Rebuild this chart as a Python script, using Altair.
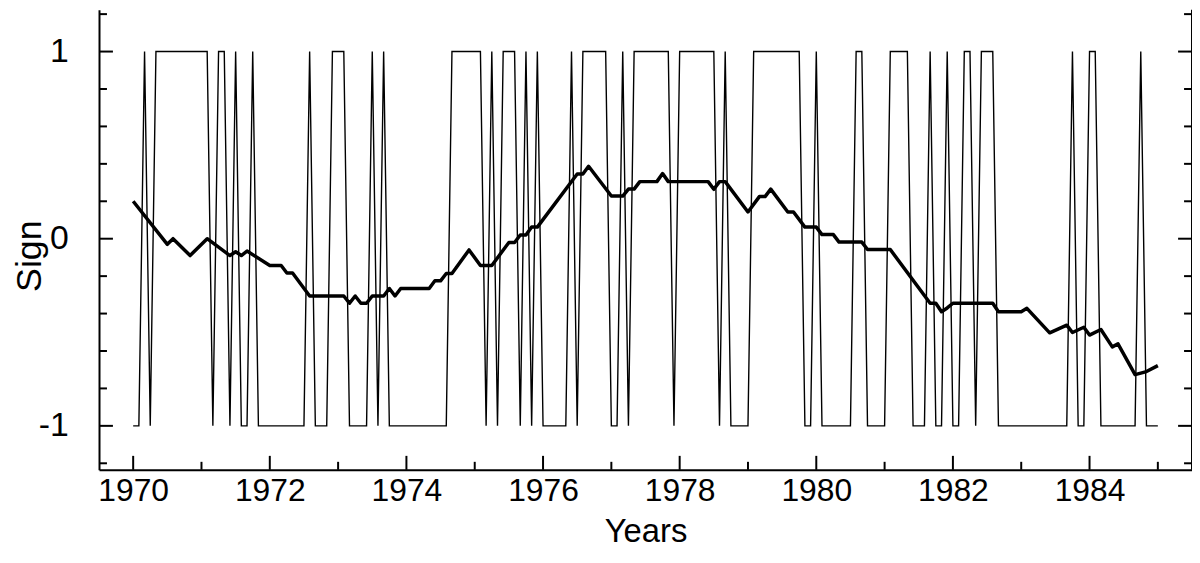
import altair as alt
import pandas as pd

# ---------------- data ----------------
start_year = 1970
# monthly sign series, Jan 1970 .. Jan 1985 (181 months)
sign_values = [
    -1, -1, 1, -1, 1, 1, 1, 1, 1, 1, 1, 1, 1, 1,           # 0-13
    -1, 1, 1, -1, 1, -1, -1, 1,                           # 14-21
    -1, -1, -1, -1, -1, -1, -1, -1, -1,                   # 22-30
    1, -1, -1, -1, 1, 1, 1, -1, -1, -1, -1,               # 31-41
    1, -1, 1,                                             # 42-44
    -1, -1, -1, -1, -1, -1, -1, -1, -1, -1, -1,           # 45-55
    1, 1, 1, 1, 1, 1,                                     # 56-61
    -1, 1, -1, 1, 1, 1, -1, 1, -1, 1,                     # 62-71
    -1, -1, -1, -1, -1, 1, -1, 1, 1, 1, 1, 1,             # 72-83
    -1, -1, 1, -1,                                        # 84-87
    1, 1, 1, 1, 1, 1, 1, -1,                              # 88-95
    1, 1, 1, 1, 1, 1, 1, -1, 1,                           # 96-104
    -1, -1, -1, -1,                                       # 105-108
    1, 1, 1, 1, 1, 1, 1, 1, 1,                            # 109-117
    -1, -1, 1, -1, -1, -1, -1, -1, -1,                    # 118-126
    1, 1, -1, -1, -1, -1, 1, 1, 1, 1,                     # 127-136
    -1, -1, -1, 1, -1, -1, 1, -1, -1, 1, 1, -1,           # 137-148
    1, 1, 1,                                              # 149-151
    -1, -1, -1, -1, -1, -1, -1, -1, -1, -1, -1, -1, -1,   # 152-164
    1, -1, -1, 1, 1,                                      # 165-169
    -1, -1, -1, -1, -1, -1, -1, 1, -1, -1, -1,            # 170-180
]

# smoothed curve: vertices (month index since Jan 1970, value)
trend_months = [0, 6, 7, 10, 13, 17, 18, 19, 20, 24, 26, 27, 28, 31, 37, 38, 39,
                40, 41, 42, 44, 45, 46, 47, 52, 53, 54, 55, 56, 59, 61, 63, 66,
                67, 68, 69, 70, 71, 78, 79, 80, 84, 86, 87, 88, 89, 92, 93, 94,
                101, 102, 103, 104, 108, 110, 111, 112, 115, 116, 118, 120, 121,
                123, 124, 128, 129, 133, 140, 141, 142, 143, 144, 151, 152, 156,
                157, 161, 164, 165, 167, 168, 170, 172, 173, 176, 178, 180]
trend_values = [0.20, -0.03, 0.00, -0.09, 0.00, -0.09, -0.07, -0.09, -0.066,
                -0.143, -0.143, -0.183, -0.183, -0.306, -0.306, -0.345, -0.306,
                -0.345, -0.345, -0.306, -0.306, -0.266, -0.306, -0.266, -0.266,
                -0.225, -0.225, -0.186, -0.186, -0.06, -0.143, -0.143, -0.02,
                -0.02, 0.02, 0.02, 0.062, 0.062, 0.346, 0.346, 0.387, 0.228,
                0.228, 0.265, 0.265, 0.305, 0.305, 0.348, 0.305, 0.305, 0.264,
                0.305, 0.305, 0.143, 0.225, 0.225, 0.265, 0.143, 0.143, 0.062,
                0.062, 0.022, 0.022, -0.018, -0.018, -0.058, -0.058, -0.345,
                -0.345, -0.39, -0.37, -0.345, -0.345, -0.39, -0.39, -0.372,
                -0.503, -0.462, -0.501, -0.473, -0.515, -0.485, -0.578, -0.562,
                -0.726, -0.71, -0.678]

x_tick_years = list(range(1970, 1986))
x_label_years = [1970, 1972, 1974, 1976, 1978, 1980, 1982, 1984]
y_major_ticks = [-1, 0, 1]
y_minor_ticks = [-1.2, -0.8, -0.6, -0.4, -0.2, 0.2, 0.4, 0.6, 0.8, 1.2]

# ---------------- layout ----------------
W, H = 1100, 463
X_DOMAIN = [1969.5, 1985.5]
Y_DOMAIN = [-1.2347, 1.2235]
FONT = "Liberation Sans"
MAJ, MIN = 14, 8

sign_df = pd.DataFrame({
    "year": [start_year + k / 12 for k in range(len(sign_values))],
    "sign": sign_values,
})
trend_df = pd.DataFrame({
    "year": [start_year + k / 12 for k in trend_months],
    "value": trend_values,
})

xs = alt.Scale(domain=X_DOMAIN, nice=False, zero=False)
ys = alt.Scale(domain=Y_DOMAIN, nice=False, zero=False)

x_axis = alt.Axis(values=x_label_years, format="d", ticks=False, tickSize=0,
                  grid=False, domainWidth=2, domainColor="black",
                  labelFont=FONT, labelFontSize=32, labelColor="black",
                  labelPadding=6, title="Years", titleFont=FONT,
                  titleFontSize=33, titleFontWeight="normal", titleColor="black",
                  titleBaseline="alphabetic", titleY=72)
y_axis = alt.Axis(values=y_major_ticks, ticks=False, tickSize=0,
                  labelExpr="'' + datum.value",
                  grid=False, domainWidth=2, domainColor="black",
                  labelFont=FONT, labelFontSize=34, labelColor="black",
                  labelPadding=31, title="Sign", titleFont=FONT,
                  titleFontSize=36, titleFontWeight="normal", titleColor="black",
                  titleAngle=-90, titleBaseline="middle", titleX=-70, titleY=H / 2 + 16)

sign_line = alt.Chart(sign_df).mark_line(color="black", strokeWidth=1.4).encode(
    x=alt.X("year:Q", scale=xs, axis=x_axis),
    y=alt.Y("sign:Q", scale=ys, axis=y_axis),
)
trend_line = alt.Chart(trend_df).mark_line(color="black", strokeWidth=3.5,
                                           strokeJoin="round").encode(
    x=alt.X("year:Q", scale=xs),
    y=alt.Y("value:Q", scale=ys),
)

ymaj_df = pd.DataFrame({"v": y_major_ticks})
ymin_df = pd.DataFrame({"v": y_minor_ticks})
xmaj_df = pd.DataFrame({"v": [y for y in x_tick_years if y % 2 == 0]})
xmin_df = pd.DataFrame({"v": [y for y in x_tick_years if y % 2 == 1]})

def ytick(df, x0, x1):
    return alt.Chart(df).mark_rule(color="black", strokeWidth=2).encode(
        y=alt.Y("v:Q", scale=ys), x=alt.value(x0), x2=alt.value(x1))

def xtick(df, length):
    return alt.Chart(df).mark_rule(color="black", strokeWidth=2).encode(
        x=alt.X("v:Q", scale=xs), y=alt.value(H - length), y2=alt.value(H))

right_spine = alt.Chart(ymaj_df.head(1)).mark_rule(color="black", strokeWidth=2).encode(
    x=alt.value(W), y=alt.value(0), y2=alt.value(H))

chart = alt.layer(
    sign_line, trend_line,
    ytick(ymaj_df, 0, MAJ), ytick(ymin_df, 0, MIN),
    ytick(ymaj_df, W - MAJ, W), ytick(ymin_df, W - MIN, W),
    xtick(xmaj_df, MAJ), xtick(xmin_df, MIN),
    right_spine,
).properties(
    width=W, height=H,
    autosize=alt.AutoSizeParams(type="none"),
    padding={"left": 91.6, "top": 0, "right": 0, "bottom": 79},
).configure_view(stroke=None)

chart.save("out.html", embed_options={"renderer": "svg", "actions": False})
